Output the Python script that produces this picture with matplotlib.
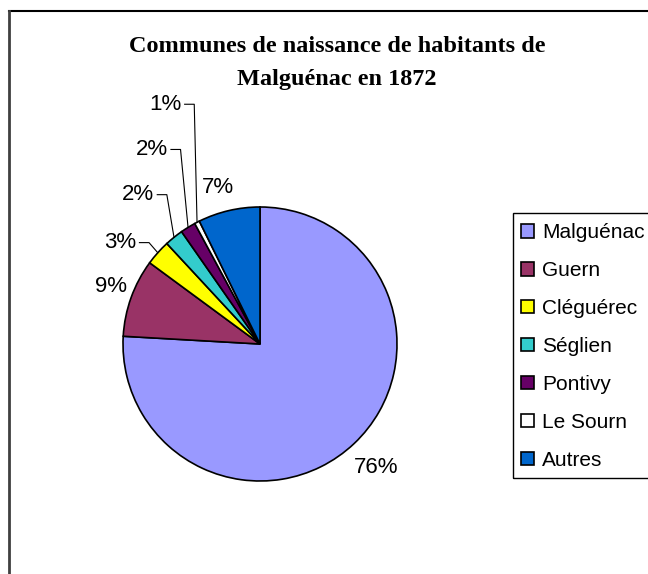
import matplotlib
matplotlib.use('Agg')
import matplotlib.pyplot as plt
from matplotlib.lines import Line2D
from matplotlib.patches import Rectangle
import numpy as np

# data (percent of inhabitants)
communes = ['Malguénac', 'Guern', 'Cléguérec', 'Séglien', 'Pontivy', 'Le Sourn', 'Autres']
parts = [75.9, 9.2, 3.0, 2.2, 1.8, 0.6, 7.3]
labels = ['76%', '9%', '3%', '2%', '2%', '1%', '7%']
colors = ['#9999FF', '#993366', '#FFFF00', '#33CCCC', '#660066', '#FFFFFF', '#0066CC']

# where the percent labels sit (pie radius units), and which get a leader line
label_pos = [(0.85, -0.90), (-1.09, 0.42), (-1.02, 0.74), (-0.89, 1.09),
             (-0.79, 1.42), (-0.69, 1.75), (-0.31, 1.14)]
leader = [False, False, True, True, True, True, False]

W, H = 648, 574
fig = plt.figure(figsize=(W / 100, H / 100), dpi=100)

# pie area: centre (260, 344) px, radius 137 px
cx, cy, r = 260, 344, 137
ax = fig.add_axes([(cx - r) / W, (H - cy - r) / H, 2 * r / W, 2 * r / H])
wedges, _ = ax.pie(parts, colors=colors, startangle=90, counterclock=False,
                   wedgeprops=dict(edgecolor='black', linewidth=1.2))
ax.set_xlim(-1, 1)
ax.set_ylim(-1, 1)

for w, lab, (lx, ly), ld in zip(wedges, labels, label_pos, leader):
    ax.text(lx, ly, lab, ha='center', va='center', fontsize=16,
            family='Liberation Sans')
    if ld:
        mid = np.deg2rad((w.theta1 + w.theta2) / 2)
        px, py = np.cos(mid), np.sin(mid)
        ex = lx + 0.14
        ax.plot([ex, ex + 0.07, px], [ly, ly, py], color='black', lw=0.8,
                clip_on=False)

fig.text(337 / W, 1 - 46 / H, 'Communes de naissance de habitants de',
         ha='center', va='center', fontsize=17.5, fontweight='bold',
         family='Liberation Serif')
fig.text(337 / W, 1 - 80 / H, 'Malguénac en 1872',
         ha='center', va='center', fontsize=17.5, fontweight='bold',
         family='Liberation Serif')

# legend box
fig.add_artist(Rectangle((513 / W, 1 - 478 / H), 150 / W, 265 / H,
                         transform=fig.transFigure, facecolor='none',
                         edgecolor='black', lw=1, clip_on=False))
fig.legend(wedges, communes, loc='upper left',
           bbox_to_anchor=(517 / W, 1 - 219 / H), frameon=False,
           prop=dict(family='Liberation Sans', size=15),
           handlelength=0.62, handleheight=0.62, handletextpad=0.38,
           labelspacing=0.91, borderpad=0.2, borderaxespad=0)

# chart border
fig.add_artist(Line2D([9 / W, 1], [1 - 11 / H, 1 - 11 / H], color='black', lw=1.5))
fig.add_artist(Line2D([9 / W, 9 / W], [0, 1 - 11 / H], color='#404040', lw=2))

fig.savefig('out.png', dpi=100)
